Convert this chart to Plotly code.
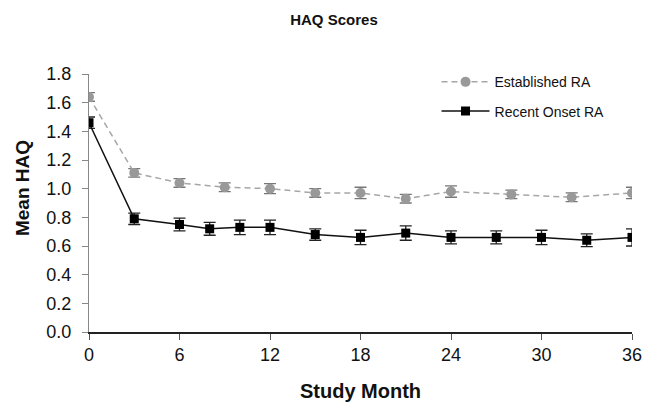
import plotly.graph_objects as go

est_months = [0, 3, 6, 9, 12, 15, 18, 21, 24, 28, 32, 36]
est_values = [1.64, 1.11, 1.04, 1.01, 1.00, 0.97, 0.97, 0.93, 0.98, 0.96, 0.94, 0.97]
est_err = [0.03, 0.03, 0.03, 0.03, 0.035, 0.03, 0.04, 0.03, 0.04, 0.03, 0.03, 0.04]

rec_months = [0, 3, 6, 8, 10, 12, 15, 18, 21, 24, 27, 30, 33, 36]
rec_values = [1.46, 0.79, 0.75, 0.72, 0.73, 0.73, 0.68, 0.66, 0.69, 0.66, 0.66, 0.66, 0.64, 0.66]
rec_err = [0.04, 0.04, 0.045, 0.045, 0.05, 0.05, 0.04, 0.05, 0.05, 0.045, 0.045, 0.05, 0.045, 0.06]

x_ticks = [0, 6, 12, 18, 24, 30, 36]
y_ticks = [0.0, 0.2, 0.4, 0.6, 0.8, 1.0, 1.2, 1.4, 1.6, 1.8]

FONT = "Liberation Sans, Arial, sans-serif"

fig = go.Figure()
fig.add_trace(go.Scatter(
    x=est_months, y=est_values, name="Established RA", mode="lines+markers",
    legendgroup="est",
    line=dict(color="#a6a6a6", width=1.5, dash="6px,4px"),
    marker=dict(symbol="circle", size=10, color="#999999"),
    error_y=dict(type="data", array=est_err, color="#777777", thickness=1.3, width=6),
))
fig.add_trace(go.Scatter(
    x=rec_months, y=rec_values, name="Recent Onset RA", mode="lines+markers",
    legendgroup="rec",
    line=dict(color="#111111", width=1.5),
    marker=dict(symbol="square", size=9, color="#000000"),
    error_y=dict(type="data", array=rec_err, color="#222222", thickness=1.3, width=6),
))

fig.update_layout(
    width=646, height=402,
    paper_bgcolor="white", plot_bgcolor="white",
    margin=dict(l=89, r=14, t=74, b=70),
    font=dict(family=FONT, color="#111111"),
    title=dict(text="<b>HAQ Scores</b>", x=0.517, xanchor="center", y=0.95, yanchor="middle",
               font=dict(size=15, family=FONT)),
    showlegend=True,
    legend=dict(x=0.64, y=1.03, xanchor="left", yanchor="top", bgcolor="rgba(0,0,0,0)",
                font=dict(size=14, family=FONT), tracegroupgap=8, traceorder="grouped",
                itemwidth=48),
    annotations=[dict(
        text="<b>Mean HAQ</b>", xref="paper", yref="paper",
        x=-0.1234, y=0.558, xanchor="center", yanchor="middle",
        textangle=-90, showarrow=False, font=dict(size=19, family=FONT, color="#111111"),
    )],
)
fig.update_xaxes(
    range=[0, 36], tickvals=x_ticks, ticktext=[str(v) for v in x_ticks],
    showgrid=False, zeroline=False, showline=True, linecolor="#222222", linewidth=1.5,
    ticks="outside", ticklen=6, tickcolor="#555555",
    tickfont=dict(size=18, family=FONT), automargin=False,
    title=dict(text="<b>Study Month</b>", font=dict(size=20, family=FONT), standoff=21),
)
fig.update_yaxes(
    range=[0, 1.8], tickvals=y_ticks, ticktext=[f"{v:.1f}" for v in y_ticks],
    showgrid=False, zeroline=False, showline=True, linecolor="#888888", linewidth=1.2,
    ticks="outside", ticklen=6, tickcolor="#888888",
    tickfont=dict(size=18, family=FONT), automargin=False, ticklabelstandoff=7,
)

fig.write_html("out.html", post_script="document.body.style.margin='0px';",
               config={"displayModeBar": False})
